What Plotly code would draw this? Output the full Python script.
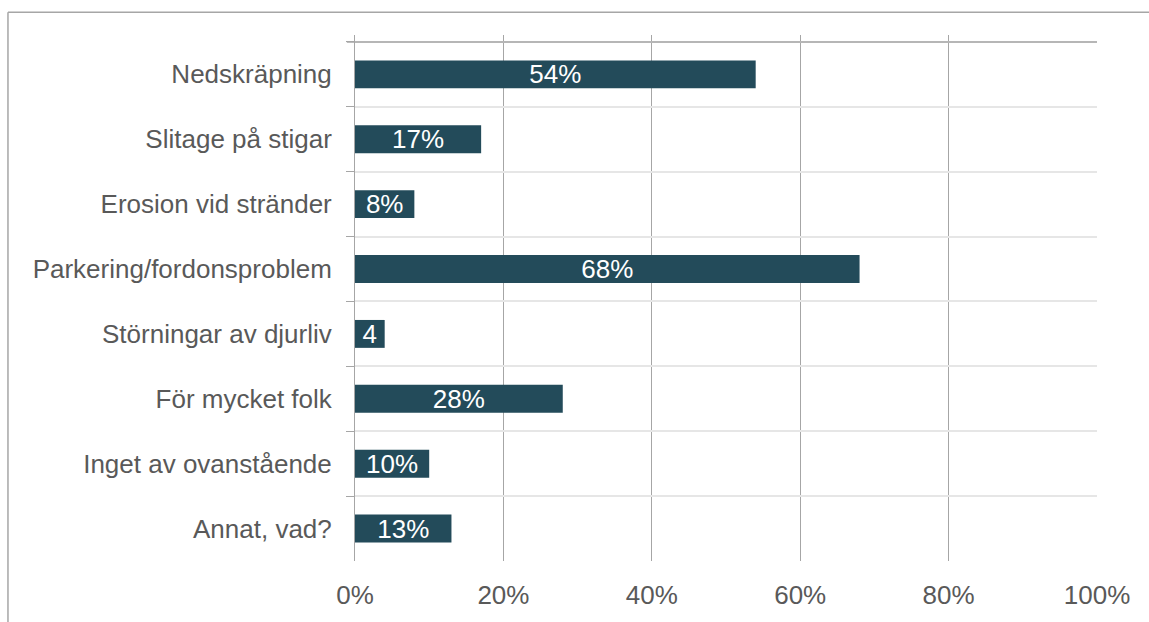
import plotly.graph_objects as go

categories = ["Nedskräpning", "Slitage på stigar", "Erosion vid stränder",
              "Parkering/fordonsproblem", "Störningar av djurliv",
              "För mycket folk", "Inget av ovanstående", "Annat, vad?"]
values = [0.54, 0.17, 0.08, 0.68, 0.04, 0.28, 0.10, 0.13]
labels = ["54%", "17%", "8%", "68%", "4", "28%", "10%", "13%"]
x_ticks = [0, 0.2, 0.4, 0.6, 0.8, 1.0]
x_ticktext = ["0%", "20%", "40%", "60%", "80%", "100%"]

BAR = "#234B5A"
TXT = "#595959"
FONT = "Liberation Sans, Arial, sans-serif"
FS = 26

fig = go.Figure(go.Bar(
    y=categories, x=values, orientation="h",
    marker=dict(color=BAR, line=dict(width=0)),
    text=labels, textposition="inside", insidetextanchor="middle",
    textangle=0,
    textfont=dict(color="white", size=FS, family=FONT),
    width=0.43, cliponaxis=False,
))

fig.update_layout(
    width=1149, height=622,
    margin=dict(l=355, r=52, t=35, b=55),
    paper_bgcolor="white", plot_bgcolor="white",
    showlegend=False,
    uniformtext=dict(minsize=FS, mode="show"),
    font=dict(family=FONT, color=TXT, size=FS),
    xaxis=dict(range=[0, 1.0], tickvals=x_ticks, ticktext=x_ticktext,
               showgrid=True, gridcolor="#A6A6A6", gridwidth=1,
               zeroline=False, showline=False, ticks="",
               ticklabelstandoff=16,
               tickfont=dict(size=FS, color=TXT, family=FONT)),
    yaxis=dict(categoryorder="array", categoryarray=categories,
               range=[7.5, -0.607],
               tickson="boundaries", ticks="outside", ticklen=8,
               tickcolor="#A6A6A6", tickwidth=1,
               showgrid=True, gridcolor="#E6E6E6", gridwidth=2,
               showline=True, linecolor="#A6A6A6", linewidth=1,
               zeroline=False, ticklabelstandoff=17,
               tickfont=dict(size=FS, color=TXT, family=FONT)),
    shapes=[
        dict(type="line", xref="paper", yref="y", x0=-0.011, x1=1, y0=-0.5, y1=-0.5,
             line=dict(color="#A6A6A6", width=1.5), layer="above"),
        dict(type="line", xref="paper", yref="paper", x0=-0.4677, x1=1.08,
             y0=1.0432, y1=1.0432, line=dict(color="#A6A6A6", width=1.5)),
        dict(type="line", xref="paper", yref="paper", x0=-0.4677, x1=-0.4677,
             y0=1.0432, y1=-0.2, line=dict(color="#A6A6A6", width=1.5)),
    ],
)

fig.write_html("out.html", config={"displayModeBar": False},
               post_script="document.body.style.margin='0';")
